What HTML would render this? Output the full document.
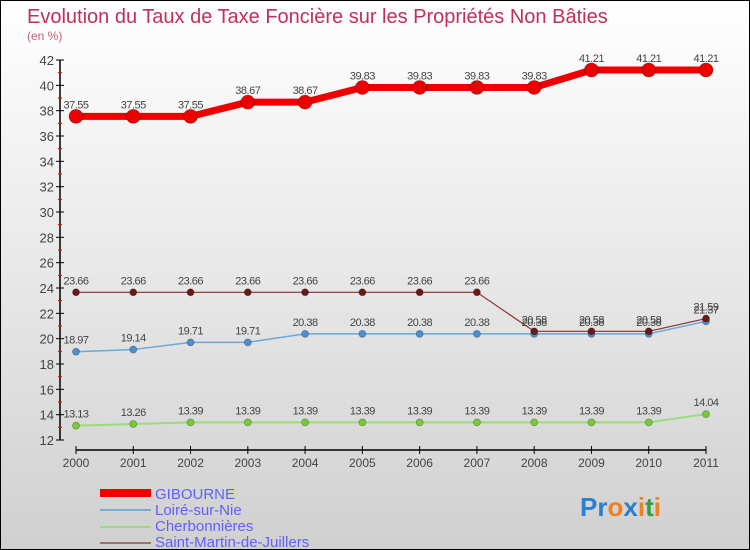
<!DOCTYPE html>
<html><head><meta charset="utf-8"><style>
body{margin:0}
#c{width:750px;height:550px;position:relative;overflow:hidden}
text{font-family:"Liberation Sans",sans-serif}
</style></head><body>
<div id="c">
<svg id="s" width="750" height="550" xmlns="http://www.w3.org/2000/svg">
<defs><linearGradient id="bg" x1="0" y1="0" x2="0" y2="1"><stop offset="0" stop-color="#ffffff"/><stop offset="1" stop-color="#d0d0d0"/></linearGradient></defs>
<rect x="0.5" y="0.5" width="749" height="549" fill="url(#bg)" stroke="#000"/>
<text x="27" y="23" font-size="20" fill="#c0305a">Evolution du Taux de Taxe Foncière sur les Propriétés Non Bâties</text>
<text x="27" y="40" font-size="12" fill="#c0607a">(en %)</text>
<g id="axes"></g><g id="series"></g>
<g>
<rect x="100" y="489" width="51" height="8" fill="#e00"/>
<text x="155" y="499" font-size="15" fill="#6060ff">GIBOURNE</text>
<line x1="100" y1="510" x2="151" y2="510" stroke="#7aaad0" stroke-width="2"/>
<text x="155" y="515" font-size="15" fill="#6060ff">Loiré-sur-Nie</text>
<line x1="100" y1="527" x2="151" y2="527" stroke="#99dd77" stroke-width="2"/>
<text x="155" y="531" font-size="15" fill="#6060ff">Cherbonnières</text>
<line x1="100" y1="543" x2="151" y2="543" stroke="#a07070" stroke-width="2"/>
<text x="155" y="547" font-size="15" fill="#6060ff">Saint-Martin-de-Juillers</text>
</g>
<text x="580" y="516" font-size="26" font-weight="bold"><tspan fill="#2a7fd0">Pr</tspan><tspan fill="#f08020">o</tspan><tspan fill="#2a7fd0">x</tspan><tspan fill="#f08020">i</tspan><tspan fill="#30a040">t</tspan><tspan fill="#f08020">i</tspan></text>
</svg></div>
<script>
const years=[2000,2001,2002,2003,2004,2005,2006,2007,2008,2009,2010,2011];
const yTicks=[12,14,16,18,20,22,24,26,28,30,32,34,36,38,40,42];
const gibourne=[37.55,37.55,37.55,38.67,38.67,39.83,39.83,39.83,39.83,41.21,41.21,41.21];
const loire=[18.97,19.14,19.71,19.71,20.38,20.38,20.38,20.38,20.38,20.38,20.38,21.37];
const cherb=[13.13,13.26,13.39,13.39,13.39,13.39,13.39,13.39,13.39,13.39,13.39,14.04];
const stmartin=[23.66,23.66,23.66,23.66,23.66,23.66,23.66,23.66,20.58,20.58,20.58,21.59];
const NS="http://www.w3.org/2000/svg";
function X(i){return 76+i*(706-76)/11;}
function Y(v){return 440-(v-12)*(380/30);}
function mk(t,a,p){const e=document.createElementNS(NS,t);for(const k in a)e.setAttribute(k,a[k]);p.appendChild(e);return e;}
const ax=document.getElementById('axes');
let l=mk('line',{x1:60,y1:Y(42),x2:60,y2:Y(12),stroke:'#000','stroke-width':1.5},ax);


yTicks.forEach(v=>{
 mk('line',{x1:56,y1:Y(v),x2:64,y2:Y(v),stroke:'#000'},ax);
 if(v<42)mk('line',{x1:58,y1:Y(v+1),x2:62,y2:Y(v+1),stroke:'#e00'},ax);
 const t=mk('text',{x:54,y:Y(v)+5,'font-size':13,fill:'#444','text-anchor':'end'},ax);t.textContent=v;
 
 
});
l=mk('line',{x1:X(0),y1:450,x2:X(11),y2:450,stroke:'#000','stroke-width':1.5},ax);


years.forEach((y,i)=>{
 mk('line',{x1:X(i),y1:446,x2:X(i),y2:454,stroke:'#000'},ax);
 const t=mk('text',{x:X(i),y:467,'font-size':12,fill:'#444','text-anchor':'middle'},ax);t.textContent=y;
 
 
});
const sg=document.getElementById('series');
function series(vals,name,col,w,r,dot,lab){
 const g=mk('g',{},sg);
 
 
 mk('polyline',{points:vals.map((v,i)=>X(i)+','+Y(v)).join(' '),fill:'none',stroke:col,'stroke-width':w},g);
 vals.forEach((v,i)=>{
  const c=mk('circle',{cx:X(i),cy:Y(v),r:r,fill:dot,stroke:'rgba(0,0,0,0.3)','stroke-width':0.8},g);
  
  
  const t=mk('text',{x:X(i),y:Y(v)-8-(lab||0),'font-size':11,fill:'#444','text-anchor':'middle','letter-spacing':'-0.5'},g);t.textContent=v.toFixed(2);
 });
}
series(cherb,'cherbonnieres','#99dd77',2,3.5,'#77cc33');
series(loire,'loire-sur-nie','#6aa8d8',1.5,3.5,'#4a90d0');
series(stmartin,'saint-martin-de-juillers','#8a3030',1.2,3.5,'#6a1818');
series(gibourne,'gibourne','#e00',7,7,'#e00',0);
</script>
</body></html>
